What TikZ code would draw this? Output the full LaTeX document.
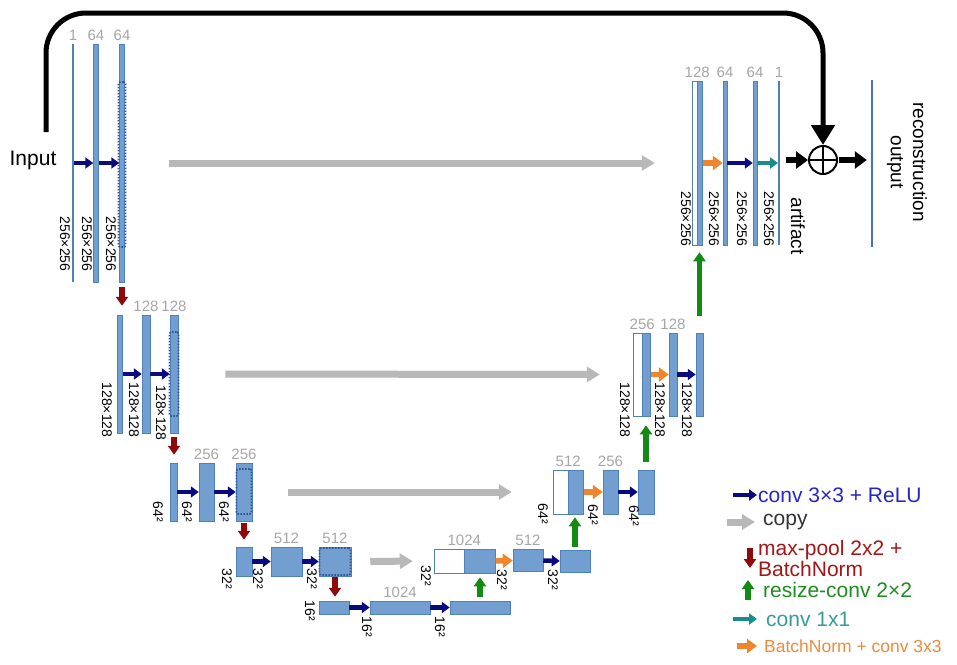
\documentclass[tikz,border=0pt]{standalone}
\usepackage{fontspec}
\setmainfont{Liberation Sans}
\usetikzlibrary{arrows.meta,positioning}
\definecolor{barfill}{HTML}{729FCF}
\definecolor{barline}{HTML}{4F81BD}
\definecolor{seldot}{HTML}{2F5597}
\definecolor{outline}{HTML}{4472C4}
\definecolor{changray}{HTML}{A6A6A6}
\definecolor{convblue}{HTML}{0A0A80}
\definecolor{copygray}{HTML}{B8B8B8}
\definecolor{poolred}{HTML}{8E0A0A}
\definecolor{upgreen}{HTML}{138A13}
\definecolor{bnorange}{HTML}{F0852F}
\definecolor{oneteal}{HTML}{1B8C8C}
\definecolor{lgblue}{HTML}{2626C4}
\definecolor{lgred}{HTML}{A51515}
\definecolor{lggreen}{HTML}{1E8C1E}
\definecolor{lgteal}{HTML}{3A9A9A}
\definecolor{lgorange}{HTML}{F08A3C}
\newcommand\fsize[1]{\fontsize{#1}{#1}\selectfont}

\begin{document}
\begin{tikzpicture}[x=1pt,y=-1pt]
		\tikzset{
			bar/.style={draw=barline,fill=barfill,line width=0.5pt,inner sep=0pt},
			cat/.style={bar,fill=white},
			flat/.style={fill=barline,inner sep=0pt,minimum width=1.5pt},
			sel/.style={draw=seldot,line width=1.8pt,dash pattern=on 1.5pt off 1.5pt,rounded corners=2pt,inner sep=0pt},
			chan/.style={text=changray,font=\fsize{15},inner sep=1pt},
			dim/.style={rotate=-90,font=\fsize{14},inner sep=0pt},
			lgd/.style={anchor=west,font=\fsize{21},inner sep=1pt},
			convarrow/.style={draw=convblue,line width=4.5pt,-{Triangle[width=11pt,length=8pt]}},
			onearrow/.style={convarrow,draw=oneteal},
			bnarrow/.style={draw=bnorange,line width=5.5pt,-{Triangle[width=14pt,length=10pt]}},
			copyarrow/.style={draw=copygray,line width=7pt,-{Triangle[width=15pt,length=13pt]}},
			poolarrow/.style={draw=poolred,line width=5.5pt,-{Triangle[width=12pt,length=9pt]}},
			uparrow/.style={poolarrow,draw=upgreen},
			blkarrow/.style={draw=black,line width=6pt,-{Triangle[width=17pt,length=12pt]}},
			skiparrow/.style={draw=black,line width=5pt,-{Triangle[width=23pt,length=20pt]}}
		}
		\useasboundingbox (0,0) rectangle (957,664);

		% encoder, 256x256
		\node[flat,minimum height=238pt] (e11) at (73,163) {};
		\node[bar,minimum width=5pt,minimum height=238pt] (e12) at (96,163) {};
		\node[bar,minimum width=5pt,minimum height=238pt] (e13) at (122,163) {};
		\node[sel,minimum width=7pt,minimum height=165pt] at (122,164.5) {};
		\node(inp) at (33,160) {\fsize{21}Input};
		\coordinate (skipstart) at (46,132);
		\coordinate (skiptop) at (400,13);
		% encoder, 128x128
		\node[bar,minimum width=5pt,minimum height=118pt] (e21) at (120,374) {};
		\node[bar,minimum width=8pt,minimum height=118pt] (e22) at (146,374) {};
		\node[bar,minimum width=8pt,minimum height=118pt] (e23) at (174,374) {};
		\node[sel,minimum width=9pt,minimum height=84pt] at (174,374) {};
		% encoder, 64^2
		\node[bar,minimum width=7pt,minimum height=58pt] (e31) at (173.5,492) {};
		\node[bar,minimum width=15pt,minimum height=58pt] (e32) at (206.5,492) {};
		\node[bar,minimum width=16pt,minimum height=58pt] (e33) at (244,492) {};
		\node[sel,minimum width=15pt,minimum height=45pt] at (244,491.5) {};
		% encoder, 32^2
		\node[bar,minimum width=16pt,minimum height=29pt] (e41) at (244,561.5) {};
		\node[bar,minimum width=31pt,minimum height=29pt] (e42) at (286.5,561.5) {};
		\node[bar,minimum width=32pt,minimum height=29pt] (e43) at (335,561.5) {};
		\node[sel,minimum width=31pt,minimum height=27pt] at (335,561.5) {};
		% bottom, 16^2
		\node[bar,minimum width=30pt,minimum height=13pt] (m1) at (334,607.5) {};
		\node[bar,minimum width=60pt,minimum height=13pt] (m2) at (400,607.5) {};
		\node[bar,minimum width=60pt,minimum height=13pt] (m3) at (480,607.5) {};
		% decoder, 32^2
		\node[cat,minimum width=30pt,minimum height=24pt] (d4w) at (449,561) {};
		\node[bar,minimum width=31pt,minimum height=24pt,right=0pt of d4w] (d4c) {};
		\node[bar,minimum width=30pt,minimum height=22pt] (d42) at (528,560.5) {};
		\node[bar,minimum width=30pt,minimum height=22pt] (d43) at (575,561) {};
		% decoder, 64^2
		\node[cat,minimum width=15pt,minimum height=44pt] (d3w) at (560.5,492) {};
		\node[bar,minimum width=15pt,minimum height=44pt,right=0pt of d3w] (d3c) {};
		\node[bar,minimum width=15pt,minimum height=44pt] (d32) at (610.5,492) {};
		\node[bar,minimum width=16pt,minimum height=44pt] (d33) at (646,492) {};
		% decoder, 128x128
		\node[cat,minimum width=9pt,minimum height=83pt] (d2w) at (637.5,374.5) {};
		\node[bar,minimum width=8pt,minimum height=83pt,right=0pt of d2w] (d2c) {};
		\node[bar,minimum width=8pt,minimum height=83pt] (d22) at (673,374.5) {};
		\node[bar,minimum width=7pt,minimum height=83pt] (d23) at (699.5,374.5) {};
		% decoder, 256x256
		\node[cat,minimum width=5pt,minimum height=164pt] (d1w) at (694.5,163) {};
		\node[bar,minimum width=5pt,minimum height=164pt,right=0pt of d1w] (d1c) {};
		\node[bar,minimum width=4pt,minimum height=164pt] (d12) at (725,163) {};
		\node[bar,minimum width=4pt,minimum height=164pt] (d13) at (755,163) {};
		\node[flat,minimum height=164pt] (d14) at (779,163) {};
		\node[circle,draw,line width=2pt,minimum size=28pt,inner sep=0pt] (sum) at (823,160) {};
		\node[flat,fill=outline,minimum width=2pt,minimum height=167pt] (out) at (872,163.5) {};

		% channel counts
		\node[chan,above=2pt of e11] {1};
		\node[chan,above=2pt of e12] {64};
		\node[chan,above=2pt of e13] {64};
		\node[chan,above=2pt of e22] {128};
		\node[chan,above=2pt of e23] {128};
		\node[chan,above=2pt of e32] {256};
		\node[chan,above=2pt of e33] {256};
		\node[chan,above=2pt of e42] {512};
		\node[chan,above=2pt of e43] {512};
		\node[chan,above=2pt of m2] {1024};
		\node[chan,above=2pt of d4w.north east] {1024};
		\node[chan,above=2pt of d42] {512};
		\node[chan,above=2pt of d3w.north east] {512};
		\node[chan,above=2pt of d32] {256};
		\node[chan,above=2pt of d2w.north east] {256};
		\node[chan,above=2pt of d22] {128};
		\node[chan,above=2pt of d1w.north east] {128};
		\node[chan,above=2pt of d12] {64};
		\node[chan,above=2pt of d13] {64};
		\node[chan,above=2pt of d14] {1};

		% sizes
		\node[dim] at (65,244) {256×256};
		\node[dim] at (87,244) {256×256};
		\node[dim] at (111,244) {256×256};
		\node[dim] at (107,410) {128×128};
		\node[dim] at (134,410) {128×128};
		\node[dim] at (161,413) {128×128};
		\node[dim] at (158,512) {64²};
		\node[dim] at (187,512) {64²};
		\node[dim] at (224,512) {64²};
		\node[dim] at (227,579) {32²};
		\node[dim] at (258,579) {32²};
		\node[dim] at (312,579) {32²};
		\node[dim] at (310,611) {16²};
		\node[dim] at (367,627) {16²};
		\node[dim] at (440,627) {16²};
		\node[dim] at (426,576) {32²};
		\node[dim] at (502,580) {32²};
		\node[dim] at (553,580) {32²};
		\node[dim] at (543,514) {64²};
		\node[dim] at (593,515) {64²};
		\node[dim] at (634,516) {64²};
		\node[dim] at (625,410) {128×128};
		\node[dim] at (660,410) {128×128};
		\node[dim] at (687,410) {128×128};
		\node[dim] at (686,219) {256×256};
		\node[dim] at (714,219) {256×256};
		\node[dim] at (742,219) {256×256};
		\node[dim] at (769,219) {256×256};
		\node[rotate=-90,font=\fsize{19}] at (798,226) {artifact};
		\node[rotate=-90,font=\fsize{19}] at (895,162) {output};
		\node[rotate=-90,font=\fsize{19}] at (920,162) {reconstruction};

		% conv 3x3
		\draw[convarrow] (e11.east) -- (e12.west);
		\draw[convarrow] (e12.east) -- (e13.west);
		\draw[convarrow] (e21.east) -- (e22.west);
		\draw[convarrow] (e22.east) -- (e23.west);
		\draw[convarrow] (e31.east) -- (e32.west);
		\draw[convarrow] (e32.east) -- (e33.west);
		\draw[convarrow] (e41.east) -- (e42.west);
		\draw[convarrow] (e42.east) -- (e43.west);
		\draw[convarrow] (m1.east) -- (m2.west);
		\draw[convarrow] (m2.east) -- (m3.west);
		\draw[convarrow] (d42.east) -- (d43.west);
		\draw[convarrow] (d32.east) -- (d33.west);
		\draw[convarrow] (d22.east) -- (d23.west);
		\draw[convarrow] (d12.east) -- (d13.west);
		% batchnorm + conv
		\draw[bnarrow] (d4c.east) -- (d42.west);
		\draw[bnarrow] (d3c.east) -- (d32.west);
		\draw[bnarrow] (d2c.east) -- (d22.west);
		\draw[bnarrow] (d1c.east) -- (d12.west);
		\draw[onearrow] (d13.east) -- (d14.west);
		% max-pool
		\draw[poolarrow,shorten <=5pt,shorten >=9pt] (e13.south) -- (e13.south |- e21.north);
		\draw[poolarrow,shorten <=4pt,shorten >=8pt] (e23.south) -- (e23.south |- e31.north);
		\draw[poolarrow,shorten <=2pt,shorten >=7pt] (e33.south) -- (e33.south |- e41.north);
		\draw[poolarrow,shorten <=1pt,shorten >=4pt] (e43.south) -- (e43.south |- m1.north);
		% resize-conv
		\draw[uparrow,shorten <=4pt,shorten >=4pt] (m3.north) -- (m3.north |- d4c.south);
		\draw[uparrow,shorten <=3pt,shorten >=3pt] (d43.north) -- (d43.north |- d3c.south);
		\draw[uparrow,shorten <=8pt,shorten >=9pt] (d33.north) -- (d33.north |- d2c.south);
		\draw[uparrow,shorten <=17pt,shorten >=7pt] (d23.north) -- (d23.north |- d1c.south);
		% copy
		\draw[copyarrow,shorten <=44pt,shorten >=37pt] (e13.east) -- (d1w.west);
		\draw[copyarrow,shorten <=47pt,shorten >=33pt] (e23.east) -- (d2w.west);
		\draw[copyarrow,shorten <=36pt,shorten >=41pt] (e33.east) -- (d3w.west);
		\draw[copyarrow,shorten <=19pt,shorten >=21pt] (e43.east) -- (d4w.west);
		% residual
		\draw[skiparrow,rounded corners=40pt] (skipstart) |- (skiptop) -| (sum.north);
		\draw[line width=2pt] (sum.north) -- (sum.south) (sum.west) -- (sum.east);
		\draw[blkarrow,shorten <=6pt] (d14.east |- sum.west) -- (sum.west);
		\draw[blkarrow,shorten <=1pt,shorten >=4pt] (sum.east) -- (sum.east -| out.west);

		% legend
		\node[lgd,text=lgblue] (lgconv) at (757,495) {conv 3×3 + ReLU};
		\node[lgd,text=black!80] (lgcopy) at (762,522) {copy};
		\node[lgd,text=lgred,align=left,font=\fontsize{21}{21}\selectfont] (lgpool) at (757,558) {max-pool 2x2 +\\BatchNorm};
		\node[lgd,text=lggreen] (lgup) at (762,590) {resize-conv 2×2};
		\node[lgd,text=lgteal] (lgone) at (765,619) {conv 1x1};
		\node[lgd,text=lgorange,font=\fsize{17.5}] (lgbn) at (763,646) {BatchNorm + conv 3x3};
		\draw[convarrow] (lgconv.west) +(-24,0) -- (lgconv.west);
		\draw[copyarrow] (lgcopy.west) +(-35,0) -- ([xshift=-7pt]lgcopy.west);
		\draw[poolarrow] ([xshift=-7pt,yshift=10pt]lgpool.west) -- ([xshift=-7pt,yshift=-10pt]lgpool.west);
		\draw[uparrow] ([xshift=-14pt,yshift=-10pt]lgup.west) -- ([xshift=-14pt,yshift=10pt]lgup.west);
		\draw[onearrow] (lgone.west) +(-32,0) -- ([xshift=-8pt]lgone.west);
		\draw[bnarrow] (lgbn.west) +(-26,0) -- ([xshift=-6pt]lgbn.west);
\end{tikzpicture}
\end{document}
